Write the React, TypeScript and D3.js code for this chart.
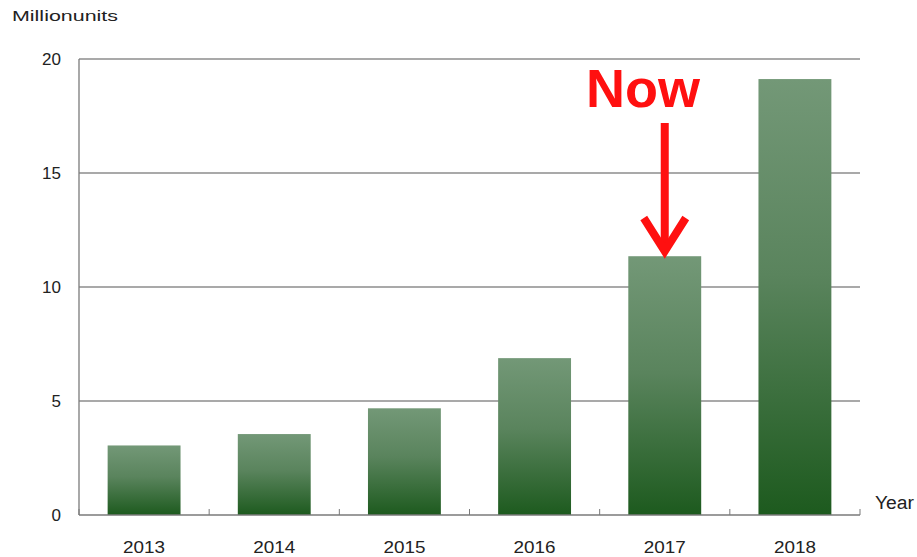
import React from "react";
import * as d3 from "d3";

const years = ["2013", "2014", "2015", "2016", "2017", "2018"];
const values = [3.05, 3.55, 4.68, 6.88, 11.35, 19.12];
const yTicks = [0, 5, 10, 15, 20];

const W = 917, H = 557;
const M = { left: 79, right: 860, top: 59, bottom: 515 };

export default function App() {
  const x = d3.scaleBand<string>().domain(years).range([M.left, M.right]).paddingInner(0.44).paddingOuter(0.22);
  const y = d3.scaleLinear().domain([0, 20]).range([M.bottom, M.top]);
  const step = (M.right - M.left) / years.length;
  const font = "'Liberation Sans', Arial, sans-serif";
  const nowIdx = years.indexOf("2017");
  const arrowX = (x(years[nowIdx]) as number) + x.bandwidth() / 2;
  const tipY = y(values[nowIdx]) - 1;
  return (
    <svg width={W} height={H} style={{ position: "absolute", left: 0, top: 0, background: "#fff" }}>
      <defs>
        <linearGradient id="barGrad" x1="0" y1="0" x2="0" y2="1">
          <stop offset="0%" stopColor="#739877" />
          <stop offset="45%" stopColor="#5a845d" />
          <stop offset="100%" stopColor="#1d5a1e" />
        </linearGradient>
      </defs>
      {yTicks.filter(t => t > 0).map(t => (
        <line key={t} x1={M.left} x2={M.right} y1={y(t)} y2={y(t)} stroke="#8c8c8c" strokeWidth={1.3} />
      ))}
      {years.map((yr, i) => (
        <rect key={yr} x={x(yr)} y={y(values[i])} width={x.bandwidth()} height={y(0) - y(values[i])} fill="url(#barGrad)" />
      ))}
      <line x1={M.left} x2={M.left} y1={M.top} y2={M.bottom} stroke="#7a7a7a" strokeWidth={1.3} />
      <line x1={M.left} x2={M.right} y1={M.bottom} y2={M.bottom} stroke="#7a7a7a" strokeWidth={1.3} />
      {d3.range(years.length + 1).map(i => (
        <line key={i} x1={M.left + i * step} x2={M.left + i * step} y1={M.bottom - 6} y2={M.bottom} stroke="#7a7a7a" strokeWidth={1} />
      ))}
      {yTicks.map(t => (
        <text key={t} x={61} y={y(t) + 6} textAnchor="end" fontFamily={font} fontSize={17} fill="#222">{t}</text>
      ))}
      {years.map(yr => (
        <text key={yr} x={(x(yr) as number) + x.bandwidth() / 2} y={553} textAnchor="middle" fontFamily={font} fontSize={17} textLength={42} lengthAdjust="spacingAndGlyphs" fill="#222">{yr}</text>
      ))}
      <text x={12} y={21} fontFamily={font} fontSize={15} textLength={106} lengthAdjust="spacingAndGlyphs" fill="#222">Millionunits</text>
      <text x={875} y={509} fontFamily={font} fontSize={18} textLength={39} lengthAdjust="spacingAndGlyphs" fill="#222">Year</text>
      <text x={643} y={107} textAnchor="middle" fontFamily={font} fontWeight="bold" fontSize={54} fill="#ff1010">Now</text>
      <line x1={arrowX} x2={arrowX} y1={123} y2={tipY - 4} stroke="#ff1010" strokeWidth={8} />
      <polyline points={`${arrowX - 21},${218} ${arrowX},${tipY - 4} ${arrowX + 21},${218}`} fill="none" stroke="#ff1010" strokeWidth={8} strokeLinejoin="miter" />
    </svg>
  );
}
